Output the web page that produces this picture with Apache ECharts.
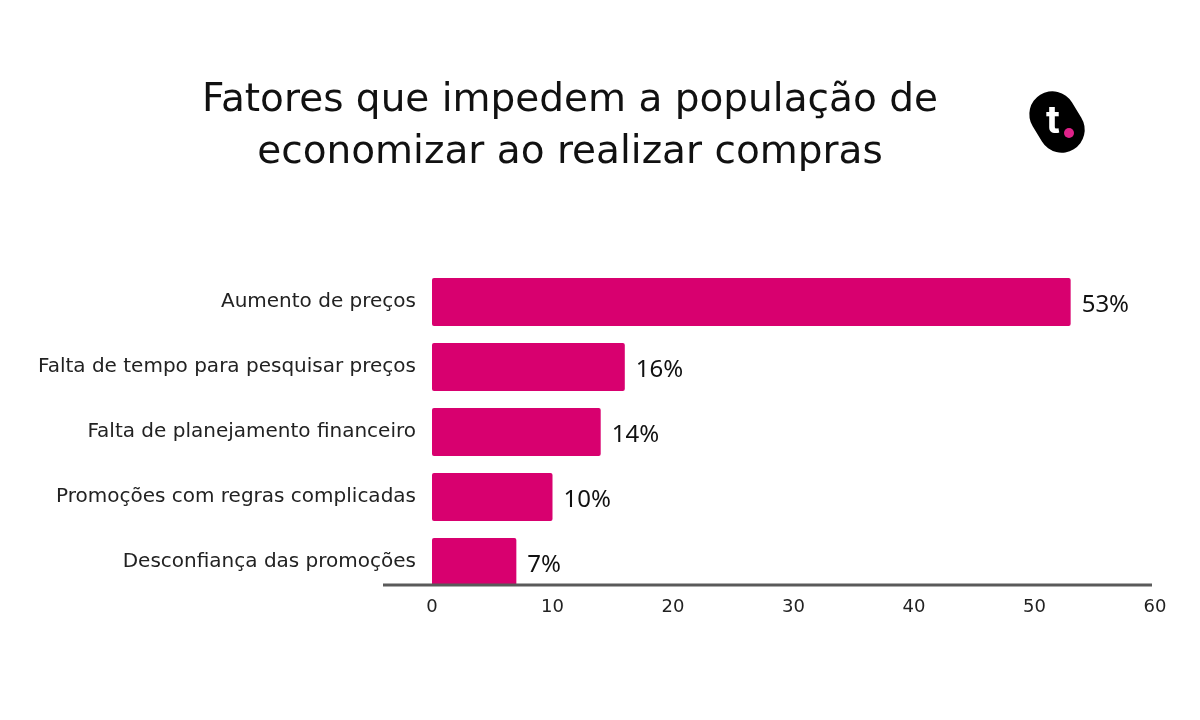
<!DOCTYPE html>
<html><head><meta charset="utf-8">
<script src="https://cdn.jsdelivr.net/npm/echarts@6/dist/echarts.min.js"></script>
<style>html,body{margin:0;padding:0;background:#fff}#c{width:1200px;height:720px}</style>
</head><body><div id="c"></div>
<script>
const titleText = 'Fatores que impedem a população de\neconomizar ao realizar compras';
const categories = ['Aumento de preços','Falta de tempo para pesquisar preços','Falta de planejamento financeiro','Promoções com regras complicadas','Desconfiança das promoções'];
const values = [53, 16, 14, 10, 7];
const xTicks = [0, 10, 20, 30, 40, 50, 60];

const chart = echarts.init(document.getElementById('c'));
chart.setOption({
  backgroundColor: '#ffffff',
  animation: false,
  title: {
    text: titleText, left: 565, top: 70, textAlign: 'center',
    textStyle: { fontFamily: 'DejaVu Sans', fontWeight: 'normal', fontSize: 39, lineHeight: 52, color: '#111' }
  },
  grid: { left: 432, right: 45, top: 269.5, bottom: 125.5, containLabel: false },
  xAxis: {
    type: 'value', min: xTicks[0], max: xTicks[xTicks.length-1], interval: 10,
    axisLine: { show: false }, axisTick: { show: false }, splitLine: { show: false },
    axisLabel: { margin: 4, fontFamily: 'DejaVu Sans', fontSize: 18, color: '#222' }
  },
  yAxis: {
    type: 'category', data: categories, inverse: true,
    axisLine: { show: false }, axisTick: { show: false },
    axisLabel: { margin: 16, fontFamily: 'DejaVu Sans', fontSize: 20, color: '#222' }
  },
  series: [{
    type: 'bar', data: values, barWidth: 48,
    itemStyle: { color: '#D8006F', borderRadius: 2 },
    label: { show: true, position: 'right', distance: 11, formatter: '{c}%', offset: [0, 3],
      fontFamily: 'Noto Sans', fontSize: 24, color: '#111' }
  }],
  graphic: [
    { type: 'line', z: 100, shape: { x1: 383, y1: 585, x2: 1152, y2: 585 }, style: { stroke: '#5a5a5a', lineWidth: 3 } },
    { type: 'group', x: 1057, y: 122, children: [
      { type: 'rect', rotation: 0.55, shape: { x: -23, y: -32, width: 46, height: 64, r: 23 }, style: { fill: '#000' } },
      { type: 'text', style: { text: 't', x: -4, y: 0, fill: '#fff', font: 'bold 38px Inter', textAlign: 'center', textVerticalAlign: 'middle' } },
      { type: 'circle', shape: { cx: 12, cy: 11, r: 5 }, style: { fill: '#E0228A' } }
    ]}
  ]
});
</script></body></html>
